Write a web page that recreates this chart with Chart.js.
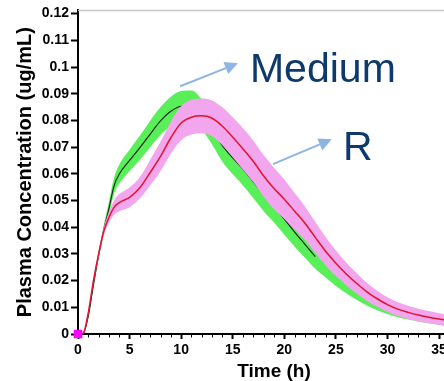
<!DOCTYPE html>
<html>
<head>
<meta charset="utf-8">
<script src="https://cdn.jsdelivr.net/npm/chart.js"></script>
<style>
  html, body { margin: 0; padding: 0; background: #fff; overflow: hidden; }
  #wrap { width: 480px; height: 381px; }
</style>
</head>
<body>
<div id="wrap"><canvas id="pkChart" width="480" height="381"></canvas></div>
<script>
// temps (h)
const timeH = [0, 0.5, 1, 1.5, 2, 2.5, 3, 3.5, 4, 5, 6, 7, 8, 9, 10, 11, 12, 13, 14, 15, 16, 17, 18, 19, 20,
  21, 22, 23, 24, 25, 26, 27, 28, 29, 30, 31, 32, 33, 34, 35, 36]

// Medium : ligne noire + bande verte
const mediumCenter = [0, 0.0002, 0.0068, 0.0185, 0.0295, 0.039, 0.047, 0.0556, 0.0599, 0.065, 0.0698, 0.0749, 0.0798, 0.0834, 0.0853, 0.0855, 0.0822, 0.0768, 0.0705, 0.066, 0.0618, 0.057, 0.0522, 0.0478, 0.043,
  0.0382, 0.0336, 0.029, 0.0252, 0.0215, 0.0183, 0.0155, 0.0131, 0.0111, 0.0095, 0.0082, 0.0072, 0.0063, 0.0056, 0.005, 0.0045]
const mediumUpper = [0, 0.0004, 0.0076, 0.0195, 0.0307, 0.0408, 0.0495, 0.0586, 0.0634, 0.069, 0.0743, 0.0799, 0.085, 0.0889, 0.091, 0.0912, 0.0879, 0.0826, 0.0765, 0.0722, 0.068, 0.0632, 0.0584, 0.0538, 0.0488,
  0.0437, 0.0386, 0.0336, 0.0292, 0.025, 0.0213, 0.0182, 0.0155, 0.0133, 0.0115, 0.0101, 0.009, 0.008, 0.0072, 0.0065, 0.006]
const mediumLower = [0, 0, 0.006, 0.0175, 0.0283, 0.0372, 0.0445, 0.0526, 0.0564, 0.061, 0.0653, 0.0699, 0.0746, 0.0779, 0.0796, 0.0798, 0.0765, 0.071, 0.0645, 0.0598, 0.0556, 0.0508, 0.046, 0.0418, 0.0372,
  0.0327, 0.0286, 0.0244, 0.0212, 0.018, 0.0153, 0.0128, 0.0107, 0.0089, 0.0075, 0.0063, 0.0054, 0.0046, 0.004, 0.0035, 0.003]
const mediumLineEnd = 23

// R : ligne rouge + bande rose
const rCenter = [0, 0.0003, 0.008, 0.02, 0.03, 0.0385, 0.0437, 0.0474, 0.0492, 0.0512, 0.0548, 0.0605, 0.0665, 0.0735, 0.079, 0.0812, 0.0817, 0.0808, 0.0778, 0.0737, 0.0693, 0.0646, 0.0592, 0.0545, 0.0505,
  0.046, 0.0415, 0.0362, 0.031, 0.0265, 0.0225, 0.019, 0.0158, 0.0132, 0.011, 0.0093, 0.0081, 0.0071, 0.0063, 0.0056, 0.005]
const rUpper = [0, 0.0006, 0.0088, 0.021, 0.0312, 0.04, 0.0457, 0.0501, 0.0524, 0.0549, 0.0588, 0.0653, 0.072, 0.0795, 0.0854, 0.0877, 0.0882, 0.0875, 0.0849, 0.0812, 0.0771, 0.0724, 0.067, 0.0623, 0.0579,
  0.0528, 0.0478, 0.042, 0.0363, 0.0313, 0.0268, 0.0228, 0.0192, 0.0162, 0.0138, 0.0119, 0.0106, 0.0095, 0.0086, 0.0078, 0.0071]
const rLower = [0, 0, 0.0072, 0.019, 0.0288, 0.037, 0.0417, 0.0447, 0.046, 0.0475, 0.0508, 0.0557, 0.061, 0.0675, 0.0726, 0.0747, 0.0752, 0.0741, 0.0707, 0.0662, 0.0615, 0.0568, 0.0514, 0.0467, 0.0431,
  0.0392, 0.0352, 0.0304, 0.0257, 0.0217, 0.0182, 0.0152, 0.0124, 0.0102, 0.0082, 0.0067, 0.0056, 0.0047, 0.004, 0.0034, 0.0029]

// petit carré magenta à l'origine
const originMarkerX = [0]
const originMarkerY = [0]

const toPoints = (values) => values.map((v, i) => ({ x: timeH[i], y: v }))

// annotations (en coordonnées des axes)
const notes = [
  { text: 'Medium', x: 16.67, y: 0.0943, from: [9.9, 0.0928], to: [15.5, 0.1014] },
  { text: 'R', x: 25.7, y: 0.0651, from: [18.9, 0.0636], to: [24.6, 0.0729] }
]

const font = '"Liberation Sans", Arial, sans-serif'

const extras = {
  id: 'extras',
  afterDraw(chart) {
    const { ctx, chartArea, scales } = chart
    const xs = scales.x
    const ys = scales.y
    ctx.save()

    // bord du haut gris
    ctx.strokeStyle = '#c8c8c8'
    ctx.lineWidth = 1.5
    ctx.beginPath()
    ctx.moveTo(chartArea.left, chartArea.top)
    ctx.lineTo(chartArea.right, chartArea.top)
    ctx.stroke()

    // petites graduations sur l'axe x
    ctx.strokeStyle = '#000'
    ctx.lineWidth = 1
    for (let t = 1; t <= xs.max; t++) {
      if (t % 5 === 0) continue
      const px = Math.round(xs.getPixelForValue(t)) + 0.5
      ctx.beginPath()
      ctx.moveTo(px, chartArea.bottom + 1)
      ctx.lineTo(px, chartArea.bottom + 3.5)
      ctx.stroke()
    }

    // flèches + textes
    notes.forEach(n => {
      const x1 = xs.getPixelForValue(n.from[0])
      const y1 = ys.getPixelForValue(n.from[1])
      const x2 = xs.getPixelForValue(n.to[0])
      const y2 = ys.getPixelForValue(n.to[1])
      const ang = Math.atan2(y2 - y1, x2 - x1)
      const headLen = 13
      const headW = 6.5
      const bx = x2 - headLen * Math.cos(ang)
      const by = y2 - headLen * Math.sin(ang)

      ctx.strokeStyle = '#8db4e2'
      ctx.fillStyle = '#8db4e2'
      ctx.lineWidth = 2
      ctx.beginPath()
      ctx.moveTo(x1, y1)
      ctx.lineTo(bx, by)
      ctx.stroke()
      ctx.beginPath()
      ctx.moveTo(x2, y2)
      ctx.lineTo(bx + headW * Math.sin(ang), by - headW * Math.cos(ang))
      ctx.lineTo(bx - headW * Math.sin(ang), by + headW * Math.cos(ang))
      ctx.closePath()
      ctx.fill()

      ctx.fillStyle = '#0d3a6b'
      ctx.font = '41px ' + font
      ctx.textAlign = 'left'
      ctx.textBaseline = 'alphabetic'
      ctx.fillText(n.text, xs.getPixelForValue(n.x), ys.getPixelForValue(n.y))
    })
    ctx.restore()
  }
}

const noLine = 'rgba(0,0,0,0)'
const ctx = document.getElementById('pkChart').getContext('2d')
const pkChart = new Chart(ctx, {
  type: 'line',
  data: {
    datasets: [
      { data: toPoints(mediumUpper), borderColor: noLine, borderWidth: 0, pointRadius: 0, fill: '+1', backgroundColor: '#58ef58', order: 5 },
      { data: toPoints(mediumLower), borderColor: noLine, borderWidth: 0, pointRadius: 0, fill: false, order: 5 },
      { data: toPoints(mediumCenter).filter(p => p.x <= mediumLineEnd), borderColor: '#1c2a1c', borderWidth: 1.2, pointRadius: 0, fill: false, order: 4 },
      { data: toPoints(rUpper), borderColor: noLine, borderWidth: 0, pointRadius: 0, fill: '+1', backgroundColor: '#f2a6ee', order: 3 },
      { data: toPoints(rLower), borderColor: noLine, borderWidth: 0, pointRadius: 0, fill: false, order: 3 },
      { data: toPoints(rCenter), borderColor: '#e3122e', borderWidth: 1.5, pointRadius: 0, fill: false, order: 2 },
      {
        data: originMarkerX.map((x, i) => ({ x, y: originMarkerY[i] })),
        showLine: false, pointStyle: 'rect', pointRadius: 6, backgroundColor: '#ff00ff',
        borderWidth: 0, clip: false, order: 1
      }
    ]
  },
  options: {
    responsive: false,
    animation: false,
    layout: { padding: { top: 10, right: 10, left: 0, bottom: 0 } },
    elements: { line: { cubicInterpolationMode: 'monotone' } },
    plugins: { legend: { display: false }, tooltip: { enabled: false } },
    scales: {
      x: {
        type: 'linear',
        min: 0,
        max: 38,
        afterFit: (s) => { s.height = 47 },
        border: { color: '#000', width: 2 },
        grid: { drawOnChartArea: false, tickLength: 5, tickWidth: 2, tickColor: '#000' },
        ticks: { stepSize: 5, includeBounds: false, maxRotation: 0, padding: 3, color: '#000', font: { family: font, size: 14, weight: 'bold' } },
        title: { display: true, text: 'Time (h)', color: '#000', padding: 0, font: { family: font, size: 19, weight: 'bold', lineHeight: 1 } }
      },
      y: {
        min: 0,
        max: 0.1212,
        afterFit: (s) => { s.width = 78 },
        border: { color: '#000', width: 2 },
        grid: { drawOnChartArea: false, tickLength: 7, tickWidth: 2, tickColor: '#000' },
        ticks: {
          stepSize: 0.01, includeBounds: false, padding: 2, color: '#000',
          font: { family: font, size: 14, weight: 'bold' },
          callback: (v) => parseFloat(v.toFixed(2)).toString()
        },
        title: { display: true, text: 'Plasma Concentration (ug/mL)', color: '#000', padding: { top: 15.5, bottom: 0 }, font: { family: font, size: 20, weight: 'bold', lineHeight: 1 } }
      }
    }
  },
  plugins: [extras]
})
</script>
</body>
</html>
